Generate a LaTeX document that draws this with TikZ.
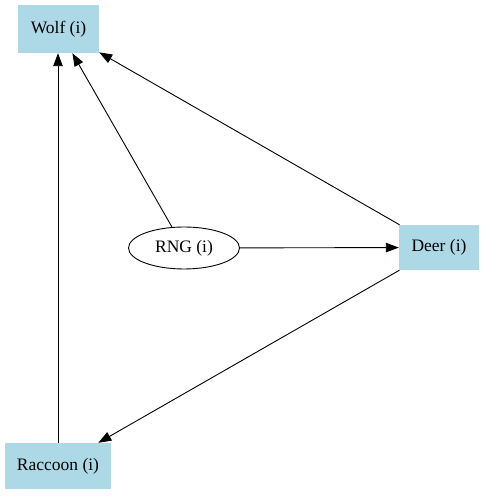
\documentclass[tikz,border=0pt]{standalone}
\usepackage{fontspec}
\setmainfont{Liberation Serif}
\usetikzlibrary{arrows.meta,shapes.geometric}
\definecolor{lb}{HTML}{ADD8E6}
\begin{document}
\begin{tikzpicture}[x=1pt,y=1pt,
  box/.style={rectangle,fill=lb,draw=none,minimum height=46pt,inner sep=0pt,font=\fontsize{17.5}{20}\selectfont},
  oval/.style={ellipse,draw,line width=0.9pt,minimum width=111pt,minimum height=42pt,inner sep=0pt,font=\fontsize{17.5}{20}\selectfont},
  edge/.style={draw,line width=0.9pt,-{Triangle[length=13pt,width=9.5pt]}}]
\useasboundingbox (0,0) rectangle (482,497);
\node[box,minimum width=81pt,minimum height=48pt] (wolf) at (58.5,468) {Wolf (i)};
\node[box,minimum width=80pt,minimum height=45pt] (deer) at (439,249.5) {Deer (i)};
\node[box,minimum width=106pt] (raccoon) at (58,31) {Raccoon (i)};
\node[oval] (rng) at (184,249) {RNG (i)};
\draw[edge] (raccoon) -- (raccoon |- wolf.south);
\draw[edge] (rng) -- (wolf);
\draw[edge] (deer) -- (wolf);
\draw[edge] (rng) -- (deer);
\draw[edge] (deer) -- (raccoon);
\end{tikzpicture}
\end{document}
